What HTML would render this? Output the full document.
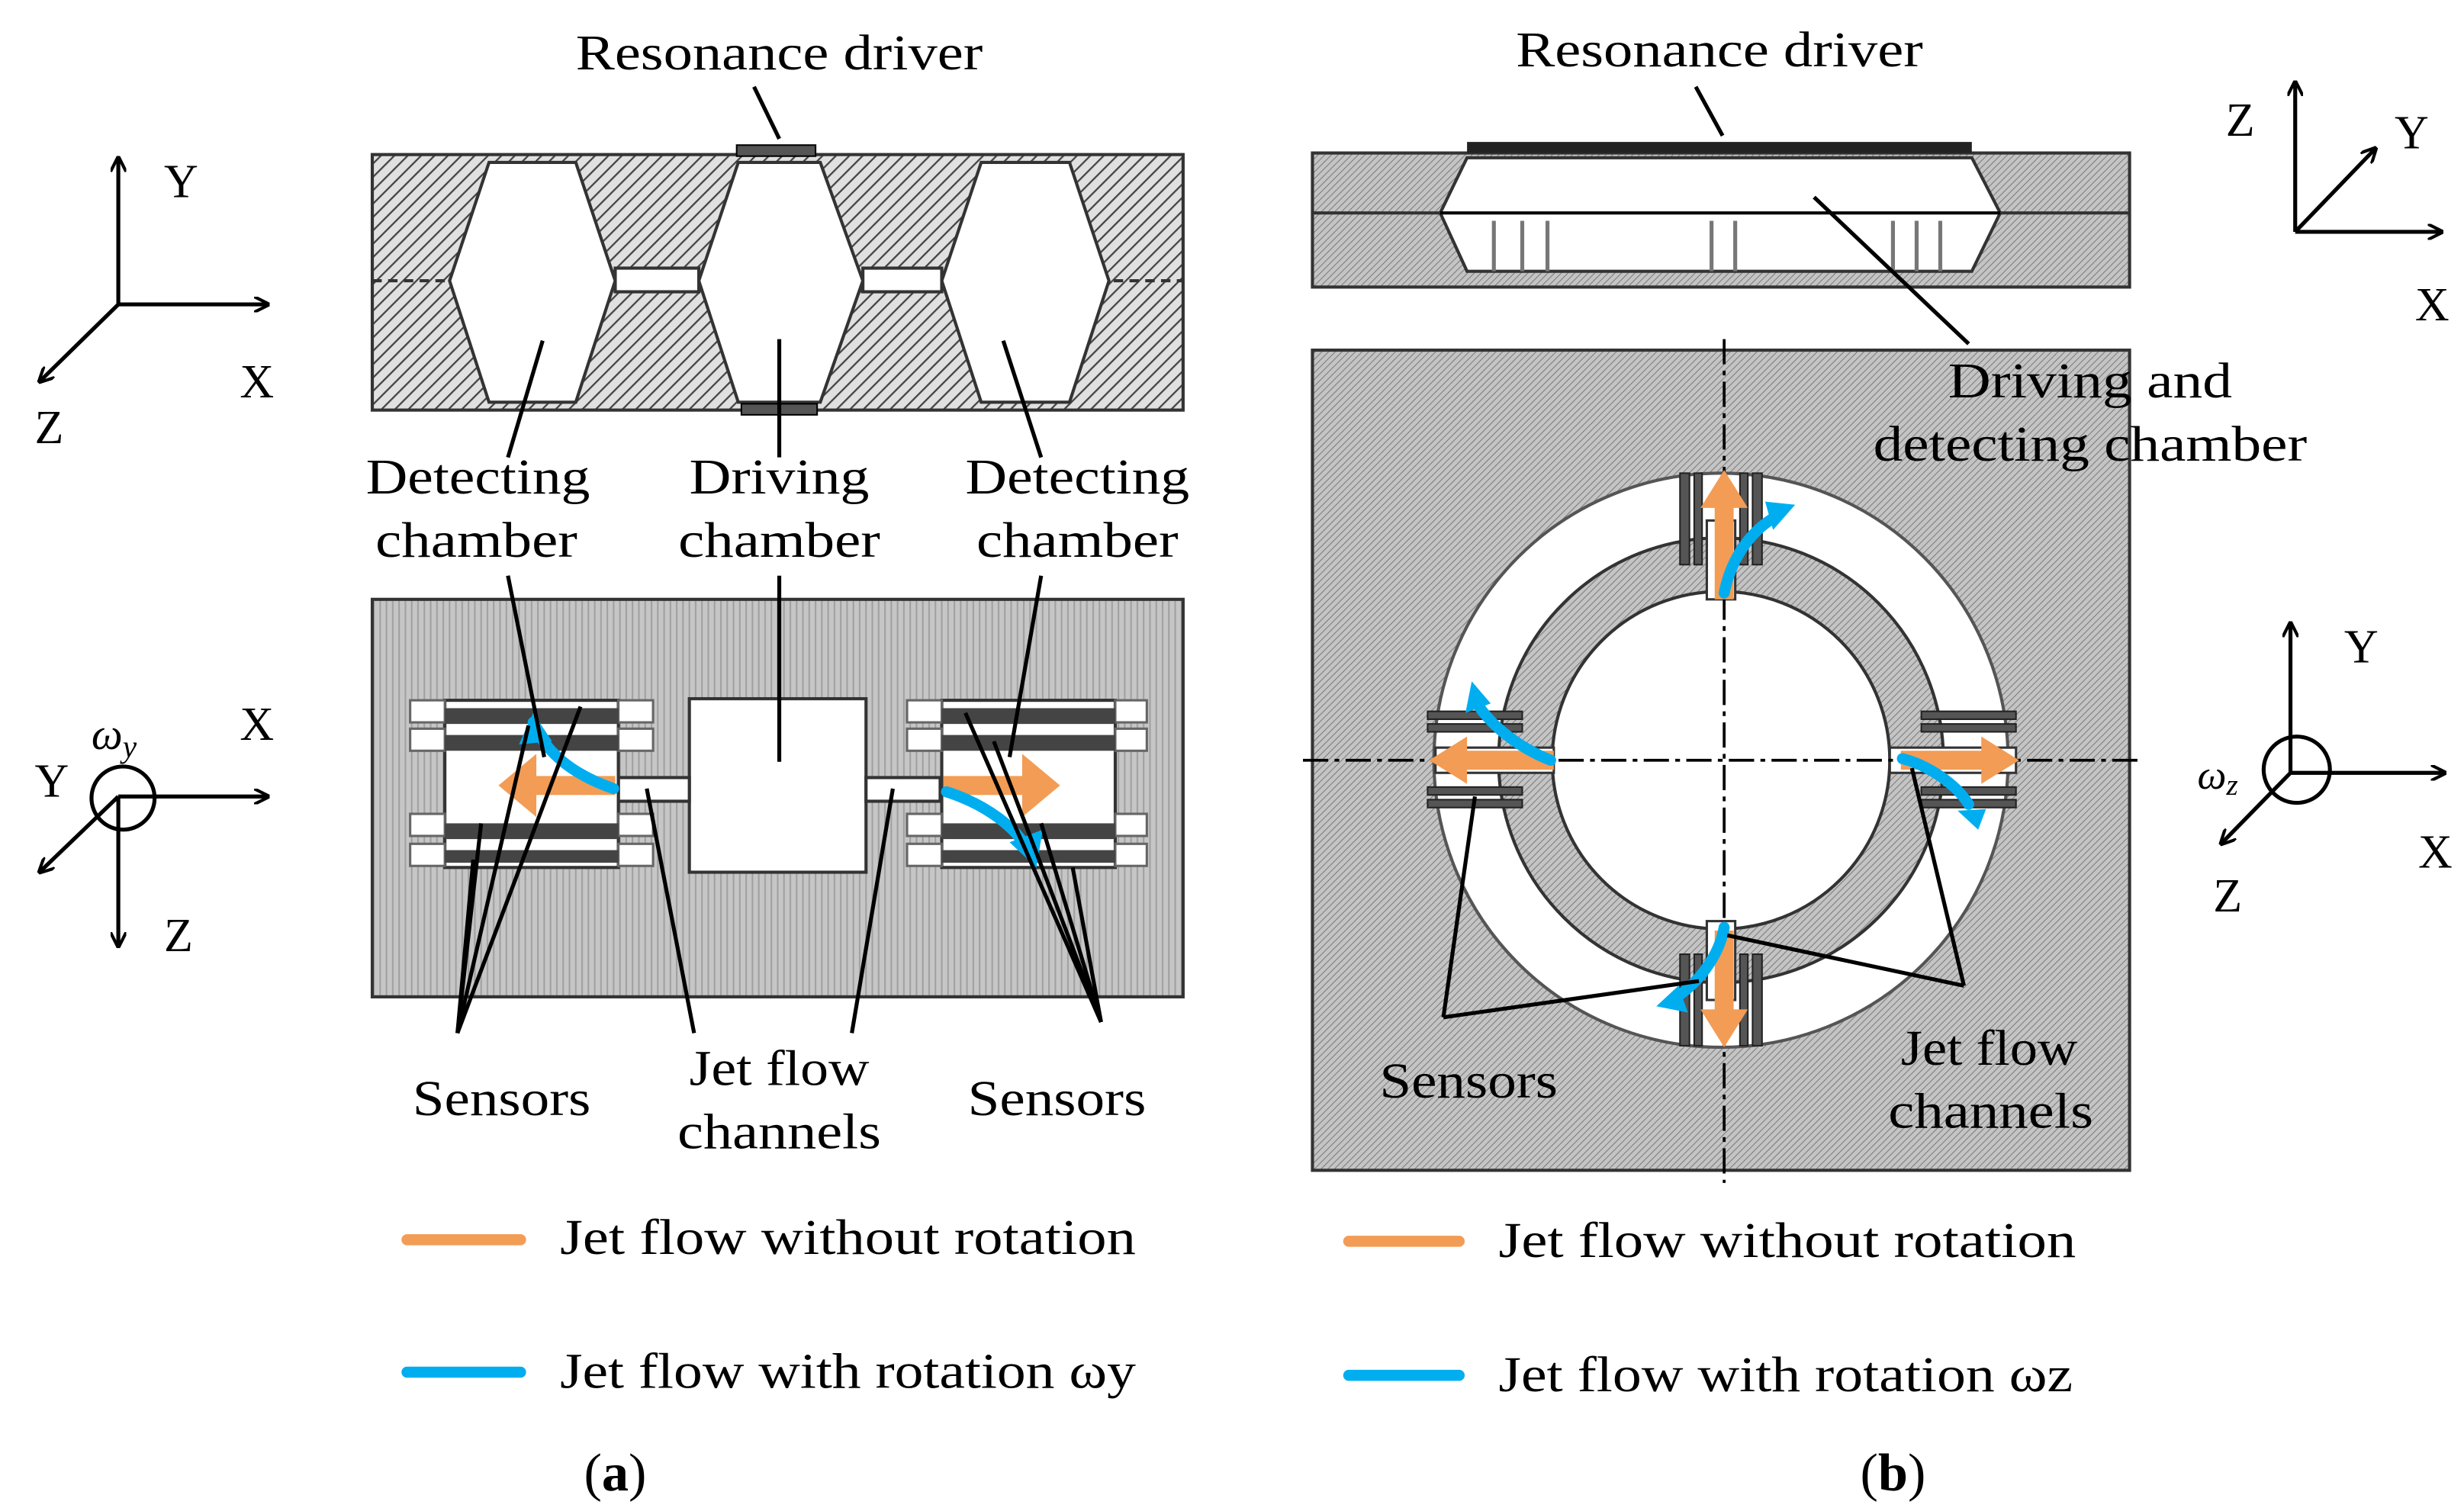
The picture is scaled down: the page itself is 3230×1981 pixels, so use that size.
<!DOCTYPE html>
<html><head><meta charset="utf-8"><style>
html,body{margin:0;padding:0;background:#fff;}
svg{display:block;}
text{font-family:"Liberation Serif",serif;fill:#000;}
</style></head><body>
<svg width="3230" height="1981" viewBox="0 0 1562 958" xmlns="http://www.w3.org/2000/svg">
<defs>
<pattern id="hatch" width="6" height="6" patternUnits="userSpaceOnUse" patternTransform="rotate(45)">
<rect width="6" height="6" fill="#e0e0e0"/><line x1="0" y1="0" x2="0" y2="6" stroke="#444" stroke-width="2.2"/></pattern>
<pattern id="vert" width="4" height="4" patternUnits="userSpaceOnUse">
<rect width="4" height="4" fill="#c6c6c6"/><line x1="1" y1="0" x2="1" y2="4" stroke="#a0a0a0" stroke-width="1"/></pattern>
<pattern id="dots" width="3" height="3" patternUnits="userSpaceOnUse" patternTransform="rotate(45)">
<rect width="3" height="3" fill="#c4c4c4"/><line x1="0" y1="0" x2="0" y2="3" stroke="#7a7a7a" stroke-width="1"/></pattern>
<marker id="ah" markerWidth="10" markerHeight="10" refX="9" refY="5" orient="auto" markerUnits="userSpaceOnUse"><path d="M0,0 L10,5 L0,10" fill="none" stroke="#000" stroke-width="2"/></marker>
</defs>

<!-- left axes top -->
<g stroke="#000" stroke-width="2.5" fill="none">
<line x1="75" y1="193" x2="75" y2="100" marker-end="url(#ah)"/>
<line x1="75" y1="193" x2="170" y2="193" marker-end="url(#ah)"/>
<line x1="75" y1="193" x2="25" y2="242" marker-end="url(#ah)"/>
</g>
<text x="104" y="125" font-size="30">Y</text>
<text x="152" y="252" font-size="30">X</text>
<text x="22" y="281" font-size="30">Z</text>

<!-- top-left cross section -->
<rect x="236" y="98" width="514" height="162" fill="url(#hatch)" stroke="#333" stroke-width="2"/>
<line x1="236" y1="178" x2="750" y2="178" stroke="#333" stroke-width="2" stroke-dasharray="6,4"/>
<g fill="#fff" stroke="#333" stroke-width="2">
<polygon points="285,178 310,103 365,103 390,178 365,255 310,255"/>
<polygon points="443,178 468,103 520,103 547,178 520,255 468,255"/>
<polygon points="597,178 622,103 678,103 703,178 678,255 622,255"/>
<rect x="390" y="170" width="53" height="15"/>
<rect x="547" y="170" width="50" height="15"/>
</g>
<rect x="467" y="92" width="50" height="7" fill="#555" stroke="#000"/>
<rect x="470" y="256" width="48" height="7" fill="#555" stroke="#000"/>
<text x="494" y="44" font-size="32" text-anchor="middle" textLength="258" lengthAdjust="spacingAndGlyphs">Resonance driver</text>
<line x1="478" y1="55" x2="494" y2="88" stroke="#000" stroke-width="2.5"/>
<g font-size="32" text-anchor="middle">
<text x="303" y="313" textLength="142" lengthAdjust="spacingAndGlyphs">Detecting</text><text x="302" y="353" textLength="128" lengthAdjust="spacingAndGlyphs">chamber</text>
<text x="494" y="313" textLength="114" lengthAdjust="spacingAndGlyphs">Driving</text><text x="494" y="353" textLength="128" lengthAdjust="spacingAndGlyphs">chamber</text>
<text x="683" y="313" textLength="142" lengthAdjust="spacingAndGlyphs">Detecting</text><text x="683" y="353" textLength="128" lengthAdjust="spacingAndGlyphs">chamber</text>
</g>
<g stroke="#000" stroke-width="2.5">
<line x1="322" y1="290" x2="344" y2="216"/>
<line x1="494" y1="290" x2="494" y2="215"/>
<line x1="660" y1="290" x2="636" y2="216"/>
</g>

<!-- bottom-left plan -->
<rect x="236" y="380" width="514" height="252" fill="url(#vert)" stroke="#333" stroke-width="2"/>
<g stroke="#333" stroke-width="2" fill="#fff">
<rect x="437" y="443" width="112" height="110"/>
<rect x="392" y="493" width="45" height="15"/>
<rect x="549" y="493" width="47" height="15"/>
<rect x="282" y="444" width="110" height="106"/>
<rect x="597" y="444" width="110" height="106"/>
</g>
<g fill="#fff" stroke="#666" stroke-width="1.5">
<rect x="260" y="444" width="22" height="14"/><rect x="260" y="462" width="22" height="14"/>
<rect x="260" y="516" width="22" height="14"/><rect x="260" y="535" width="22" height="14"/>
<rect x="392" y="444" width="22" height="14"/><rect x="392" y="462" width="22" height="14"/>
<rect x="392" y="516" width="22" height="14"/><rect x="392" y="535" width="22" height="14"/>
<rect x="575" y="444" width="22" height="14"/><rect x="575" y="462" width="22" height="14"/>
<rect x="575" y="516" width="22" height="14"/><rect x="575" y="535" width="22" height="14"/>
<rect x="707" y="444" width="20" height="14"/><rect x="707" y="462" width="20" height="14"/>
<rect x="707" y="516" width="20" height="14"/><rect x="707" y="535" width="20" height="14"/>
</g>
<g fill="#444">
<rect x="282" y="449" width="110" height="10"/><rect x="282" y="466" width="110" height="10"/>
<rect x="282" y="522" width="110" height="10"/><rect x="282" y="539" width="110" height="8"/>
<rect x="597" y="449" width="110" height="10"/><rect x="597" y="466" width="110" height="10"/>
<rect x="597" y="522" width="110" height="10"/><rect x="597" y="539" width="110" height="8"/>
</g>
<!-- arrows left -->
<polygon points="316,498 340,478 340,492 390,492 390,504 340,504 340,518" fill="#f39c55"/>
<path d="M389,500 C360,490 345,475 338,458" fill="none" stroke="#00aeef" stroke-width="7" stroke-linecap="round"/>
<polygon points="329,472 338,452 350,470" fill="#00aeef"/>
<polygon points="672,498 648,478 648,492 598,492 598,504 648,504 648,518" fill="#f39c55"/>
<path d="M600,502 C625,510 645,525 652,540" fill="none" stroke="#00aeef" stroke-width="7" stroke-linecap="round"/>
<polygon points="640,534 657,550 661,526" fill="#00aeef"/>
<g stroke="#000" stroke-width="2.5">
<line x1="290" y1="655" x2="305" y2="522"/><line x1="290" y1="655" x2="335" y2="460"/>
<line x1="290" y1="655" x2="368" y2="448"/><line x1="290" y1="655" x2="300" y2="545"/>
<line x1="440" y1="655" x2="410" y2="500"/>
<line x1="540" y1="655" x2="566" y2="500"/>
<line x1="698" y1="648" x2="612" y2="452"/><line x1="698" y1="648" x2="630" y2="470"/>
<line x1="698" y1="648" x2="660" y2="522"/><line x1="698" y1="648" x2="680" y2="550"/>
<line x1="660" y1="365" x2="640" y2="480"/>
<line x1="322" y1="365" x2="345" y2="480"/>
<line x1="494" y1="365" x2="494" y2="483"/>
</g>
<g font-size="32" text-anchor="middle">
<text x="318" y="707" textLength="113" lengthAdjust="spacingAndGlyphs">Sensors</text>
<text x="494" y="688" textLength="114" lengthAdjust="spacingAndGlyphs">Jet flow</text><text x="494" y="728" textLength="129" lengthAdjust="spacingAndGlyphs">channels</text>
<text x="670" y="707" textLength="113" lengthAdjust="spacingAndGlyphs">Sensors</text>
</g>

<!-- left middle axes -->
<g stroke="#000" stroke-width="2.5" fill="none">
<line x1="75" y1="505" x2="170" y2="505" marker-end="url(#ah)"/>
<line x1="75" y1="505" x2="75" y2="600" marker-end="url(#ah)"/>
<line x1="75" y1="505" x2="25" y2="553" marker-end="url(#ah)"/>
<circle cx="78" cy="506" r="20"/>
</g>
<text x="58" y="475" font-size="28" font-style="italic">ω<tspan font-size="20" dy="5">y</tspan></text>
<text x="152" y="469" font-size="30">X</text>
<text x="22" y="505" font-size="30">Y</text>
<text x="104" y="603" font-size="30">Z</text>

<!-- legend left -->
<line x1="258" y1="786" x2="330" y2="786" stroke="#f39c55" stroke-width="7" stroke-linecap="round"/>
<text x="355" y="795" font-size="32" textLength="365" lengthAdjust="spacingAndGlyphs">Jet flow without rotation</text>
<line x1="258" y1="870" x2="330" y2="870" stroke="#00aeef" stroke-width="7" stroke-linecap="round"/>
<text x="355" y="880" font-size="32" textLength="365" lengthAdjust="spacingAndGlyphs">Jet flow with rotation ωy</text>
<text x="390" y="945" font-size="34" text-anchor="middle">(<tspan font-weight="bold">a</tspan>)</text>

<!-- right top cross section -->
<rect x="832" y="97" width="518" height="85" fill="url(#dots)" stroke="#333" stroke-width="2"/>
<line x1="832" y1="135" x2="1350" y2="135" stroke="#333" stroke-width="2"/>
<polygon points="930,100 1250,100 1268,135 1250,172 930,172 913,135" fill="#fff" stroke="#333" stroke-width="2"/>
<line x1="913" y1="135" x2="1268" y2="135" stroke="#000" stroke-width="2"/>
<g stroke="#777" stroke-width="2.5">
<line x1="947" y1="140" x2="947" y2="172"/><line x1="965" y1="140" x2="965" y2="172"/><line x1="981" y1="140" x2="981" y2="172"/>
<line x1="1085" y1="140" x2="1085" y2="172"/><line x1="1100" y1="140" x2="1100" y2="172"/>
<line x1="1200" y1="140" x2="1200" y2="172"/><line x1="1215" y1="140" x2="1215" y2="172"/><line x1="1230" y1="140" x2="1230" y2="172"/>
</g>
<rect x="930" y="90" width="320" height="7" fill="#222"/>
<text x="1090" y="42" font-size="32" text-anchor="middle" textLength="258" lengthAdjust="spacingAndGlyphs">Resonance driver</text>
<line x1="1075" y1="55" x2="1092" y2="86" stroke="#000" stroke-width="2.5"/>

<!-- right axes top -->
<g stroke="#000" stroke-width="2.5" fill="none">
<line x1="1455" y1="147" x2="1455" y2="52" marker-end="url(#ah)"/>
<line x1="1455" y1="147" x2="1548" y2="147" marker-end="url(#ah)"/>
<line x1="1455" y1="147" x2="1506" y2="94" marker-end="url(#ah)"/>
</g>
<text x="1411" y="86" font-size="30">Z</text>
<text x="1518" y="94" font-size="30">Y</text>
<text x="1531" y="203" font-size="30">X</text>

<!-- right plan -->
<rect x="832" y="222" width="518" height="520" fill="url(#dots)" stroke="#333" stroke-width="2"/>
<circle cx="1091" cy="482" r="182" fill="#fff" stroke="#555" stroke-width="2"/>
<circle cx="1091" cy="482" r="141" fill="url(#dots)" stroke="#333" stroke-width="2"/>
<circle cx="1091" cy="482" r="107" fill="#fff" stroke="#333" stroke-width="2"/>
<g fill="#fff" stroke="#333" stroke-width="1.5">
<rect x="1082" y="330" width="18" height="50"/><rect x="1082" y="584" width="18" height="50"/>
<rect x="910" y="474" width="75" height="16"/><rect x="1198" y="474" width="80" height="16"/>
</g>
<g fill="#555" stroke="#222" stroke-width="1">
<rect x="1065" y="300" width="6" height="58"/><rect x="1074" y="300" width="5" height="58"/>
<rect x="1103" y="300" width="5" height="58"/><rect x="1111" y="300" width="6" height="58"/>
<rect x="1065" y="605" width="6" height="58"/><rect x="1074" y="605" width="5" height="58"/>
<rect x="1103" y="605" width="5" height="58"/><rect x="1111" y="605" width="6" height="58"/>
<rect x="905" y="451" width="60" height="5"/><rect x="905" y="459" width="60" height="5"/>
<rect x="905" y="499" width="60" height="5"/><rect x="905" y="507" width="60" height="5"/>
<rect x="1218" y="451" width="60" height="5"/><rect x="1218" y="459" width="60" height="5"/>
<rect x="1218" y="499" width="60" height="5"/><rect x="1218" y="507" width="60" height="5"/>
</g>
<g stroke="#000" stroke-width="1.8" stroke-dasharray="16,4,3,4" fill="none">
<line x1="1093" y1="215" x2="1093" y2="750"/>
<line x1="826" y1="482" x2="1356" y2="482"/>
</g>
<!-- arrows right -->
<g fill="#f39c55">
<polygon points="1093,298 1078,322 1087,322 1087,380 1099,380 1099,322 1108,322"/>
<polygon points="1093,664 1078,640 1087,640 1087,590 1099,590 1099,640 1108,640"/>
<polygon points="906,482 930,467 930,476 985,476 985,488 930,488 930,497"/>
<polygon points="1280,482 1256,467 1256,476 1205,476 1205,488 1256,488 1256,497"/>
</g>
<g fill="none" stroke="#00aeef" stroke-width="7" stroke-linecap="round">
<path d="M1093,376 C1097,356 1108,338 1125,328"/>
<path d="M1093,588 C1090,605 1078,622 1063,632"/>
<path d="M983,482 C965,475 947,462 937,447"/>
<path d="M1206,481 C1222,485 1240,497 1248,510"/>
</g>
<g fill="#00aeef">
<polygon points="1119,318 1138,320 1124,336"/>
<polygon points="1070,642 1050,638 1064,625"/>
<polygon points="929,452 933,432 945,446"/>
<polygon points="1241,514 1259,513 1254,526"/>
</g>
<g stroke="#000" stroke-width="2.5">
<line x1="915" y1="645" x2="935" y2="505"/><line x1="915" y1="645" x2="1077" y2="622"/>
<line x1="1245" y1="625" x2="1212" y2="487"/><line x1="1245" y1="625" x2="1095" y2="593"/>
<line x1="1248" y1="218" x2="1150" y2="125"/>
</g>
<g font-size="32" text-anchor="middle">
<text x="931" y="696" textLength="113" lengthAdjust="spacingAndGlyphs">Sensors</text>
<text x="1261" y="675" textLength="112" lengthAdjust="spacingAndGlyphs">Jet flow</text><text x="1262" y="715" textLength="130" lengthAdjust="spacingAndGlyphs">channels</text>
<text x="1325" y="252" textLength="180" lengthAdjust="spacingAndGlyphs">Driving and</text>
<text x="1325" y="292" textLength="275" lengthAdjust="spacingAndGlyphs">detecting chamber</text>
</g>

<!-- right middle axes -->
<g stroke="#000" stroke-width="2.5" fill="none">
<line x1="1452" y1="490" x2="1452" y2="395" marker-end="url(#ah)"/>
<line x1="1452" y1="490" x2="1550" y2="490" marker-end="url(#ah)"/>
<line x1="1452" y1="490" x2="1408" y2="535" marker-end="url(#ah)"/>
<circle cx="1456" cy="488" r="21"/>
</g>
<text x="1486" y="420" font-size="30">Y</text>
<text x="1533" y="550" font-size="30">X</text>
<text x="1403" y="578" font-size="30">Z</text>
<text x="1393" y="500" font-size="26" font-style="italic">ω<tspan font-size="19" dy="4">z</tspan></text>

<!-- legend right -->
<line x1="855" y1="787" x2="925" y2="787" stroke="#f39c55" stroke-width="7" stroke-linecap="round"/>
<text x="950" y="797" font-size="32" textLength="366" lengthAdjust="spacingAndGlyphs">Jet flow without rotation</text>
<line x1="855" y1="872" x2="925" y2="872" stroke="#00aeef" stroke-width="7" stroke-linecap="round"/>
<text x="950" y="882" font-size="32" textLength="364" lengthAdjust="spacingAndGlyphs">Jet flow with rotation ωz</text>
<text x="1200" y="945" font-size="34" text-anchor="middle">(<tspan font-weight="bold">b</tspan>)</text>
</svg>
</body></html>
